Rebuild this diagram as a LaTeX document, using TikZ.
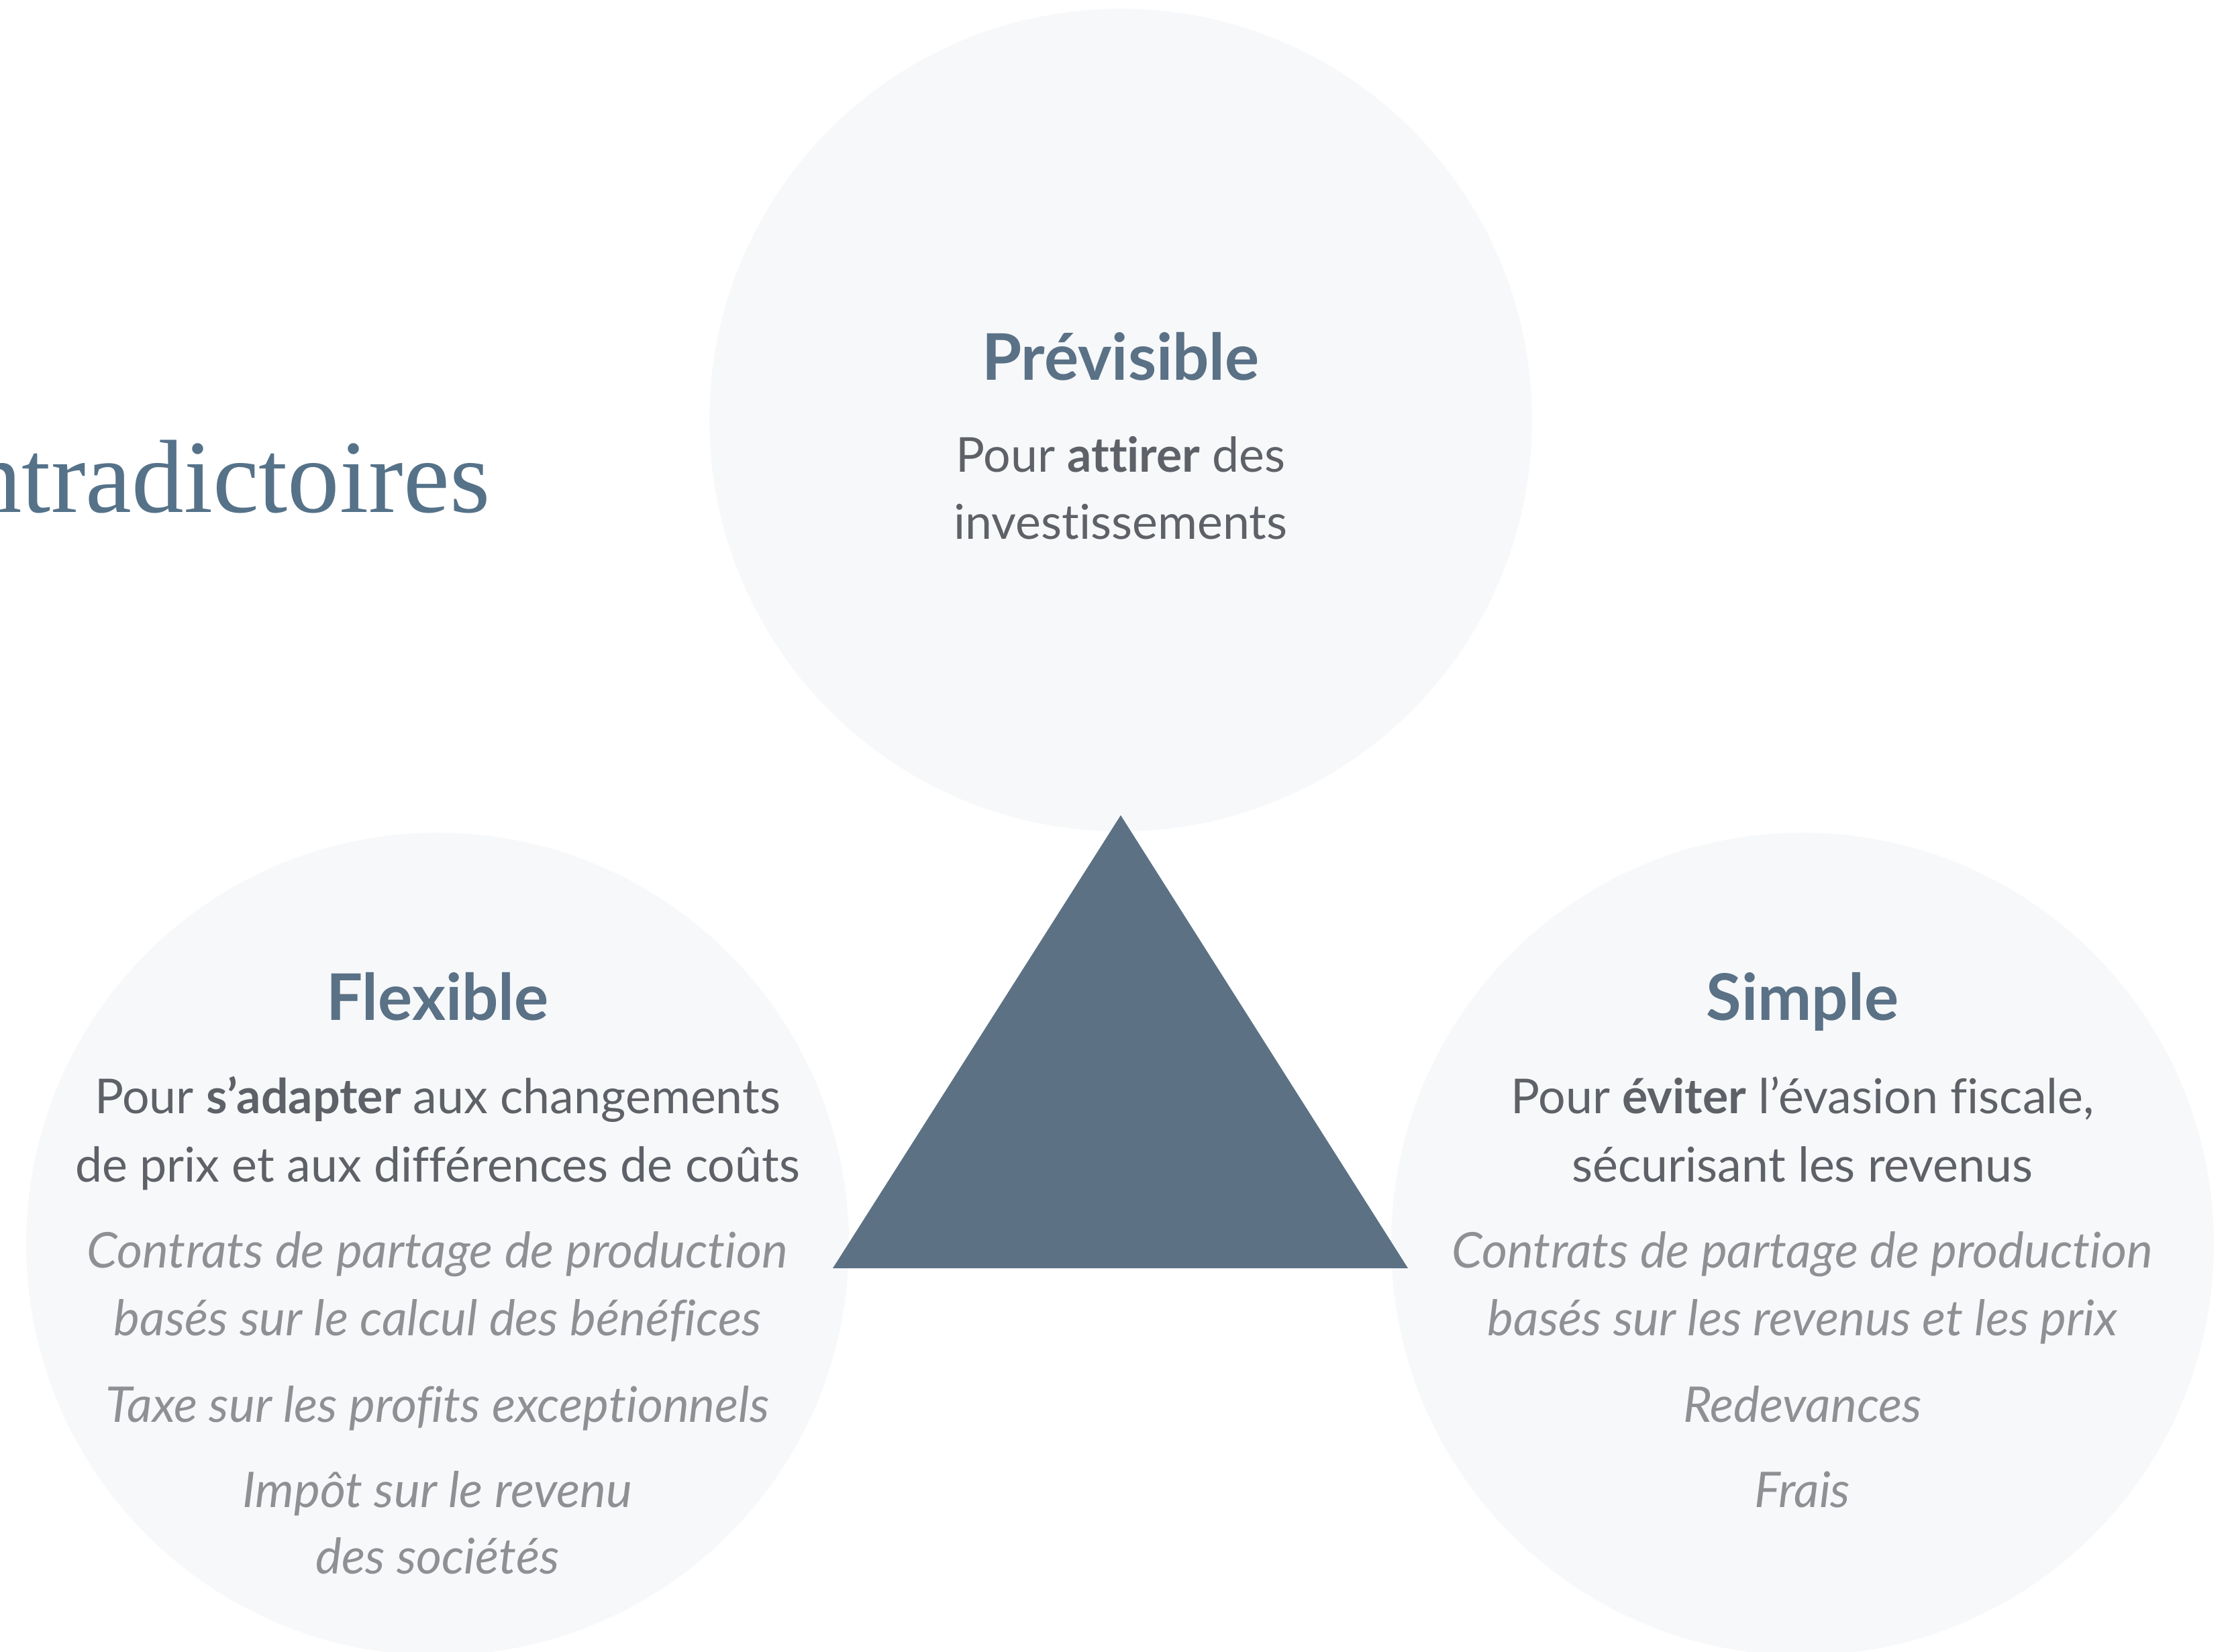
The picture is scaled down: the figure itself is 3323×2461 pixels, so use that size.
\documentclass[tikz,border=0pt]{standalone}
\usepackage{fontspec}
\setmainfont{Lato}[Ligatures={NoCommon,NoRare,NoDiscretionary}]
\newfontfamily\titlefont{Liberation Serif}
\definecolor{bubblefill}{HTML}{F7F8FA}
\definecolor{trifill}{HTML}{5C7184}
\definecolor{headcol}{HTML}{5A7186}
\definecolor{bodycol}{HTML}{5E6167}
\definecolor{itcol}{HTML}{8E9094}
\definecolor{titlecol}{HTML}{557289}
\begin{document}
\begin{tikzpicture}[x=0.24pt,y=-0.24pt,
  bubble/.style={circle,fill=bubblefill,draw=none,inner sep=0pt,minimum size=294.2pt},
  headtxt/.style={anchor=base,inner sep=0pt,text=headcol,font=\fontsize{23}{27}\selectfont\bfseries},
  bodytxt/.style={anchor=base,inner sep=0pt,text=bodycol,font=\fontsize{17.2}{24}\selectfont},
  ittxt/.style={anchor=base,inner sep=0pt,text=itcol,font=\fontsize{17.6}{24}\selectfont\itshape},
  titletxt/.style={anchor=base east,inner sep=0pt,text=titlecol,font=\fontsize{37.2}{44}\titlefont}]
\useasboundingbox (0,0) rectangle (3323,2461);
\clip (0,0) rectangle (3323,2461);
\fill[white] (0,0) rectangle (3323,2461);
% bubbles
\node[bubble] (ctop) at (1670,626) {};
\node[bubble] (cleft) at (652,1854) {};
\node[bubble] (cright) at (2686,1854) {};
% triangle
\coordinate (tapex) at (1670,1215);
\coordinate (tright) at (2098,1890);
\coordinate (tleft) at (1241,1890);
\fill[trifill] (tapex) -- (tright) -- (tleft) -- cycle;
% title
\node[titletxt] (title) at (731,763) {ntradictoires};
% top
\node[headtxt] (h1) at (1670,566) {Prévisible};
\node[bodytxt] (t1a) at (1670,703) {Pour \textbf{attirer} des};
\node[bodytxt] (t1b) at (1670,803) {investissements};
% left
\node[headtxt] (h2) at (652,1520) {Flexible};
\node[bodytxt] (t2a) at (652,1659) {Pour \textbf{s’adapter} aux changements};
\node[bodytxt] (t2b) at (652,1761) {de prix et aux différences de coûts};
\node[ittxt] (t2c) at (652,1889) {Contrats de partage de production};
\node[ittxt] (t2d) at (652,1990) {basés sur le calcul des bénéfices};
\node[ittxt] (t2e) at (652,2119) {Taxe sur les profits exceptionnels};
\node[ittxt] (t2f) at (652,2246) {Impôt sur le revenu};
\node[ittxt] (t2g) at (652,2345) {des sociétés};
% right
\node[headtxt] (h3) at (2686,1520) {Simple};
\node[bodytxt] (t3a) at (2686,1659) {Pour \textbf{éviter} l’évasion fiscale,};
\node[bodytxt] (t3b) at (2686,1761) {sécurisant les revenus};
\node[ittxt] (t3c) at (2686,1889) {Contrats de partage de production};
\node[ittxt] (t3d) at (2686,1990) {basés sur les revenus et les prix};
\node[ittxt] (t3e) at (2686,2119) {Redevances};
\node[ittxt] (t3f) at (2686,2246) {Frais};
\end{tikzpicture}
\end{document}
